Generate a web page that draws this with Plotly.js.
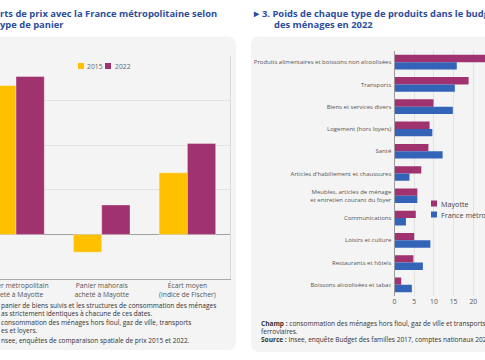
<!DOCTYPE html>
<html>
<head>
<meta charset="utf-8">
<script src="https://cdn.plot.ly/plotly-3.0.1.min.js"></script>
<style>html,body{margin:0;padding:0;background:#fff;}#chart{width:485px;height:360px;}</style>
</head>
<body>
<div id="chart"></div>
<script>
// ---- Data: chart 2 (écarts de prix, %) ----
const paniers = ['Panier métropolitain<br>acheté à Mayotte', 'Panier mahorais<br>acheté à Mayotte', 'Écart moyen<br>(indice de Fischer)'];
const ecart2015 = [16.7, -2.0, 6.9];
const ecart2022 = [17.7, 3.3, 10.2];
const annees = ['2015', '2022'];

// ---- Data: chart 3 (poids des produits, %) ----
const produits = [
  'Produits alimentaires et boissons non alcoolisées',
  'Transports',
  'Biens et services divers',
  'Logement (hors loyers)',
  'Santé',
  "Articles d'habillement et chaussures",
  'Meubles, articles de ménage<br>et entretien courant du foyer',
  'Communications',
  'Loisirs et culture',
  'Restaurants et hôtels',
  'Boissons alcoolisées et tabac'
];
const poidsMayotte = [24.0, 18.8, 9.9, 8.9, 8.6, 6.8, 5.8, 5.4, 5.0, 4.8, 1.7];
const poidsFrance  = [15.8, 15.3, 14.8, 9.6, 12.2, 3.8, 5.8, 2.9, 9.1, 7.2, 4.4];
const zones = ['Mayotte', 'France métropolitaine'];

// ---- Style ----
const W = 485, H = 360;
const YELLOW = '#FFC000', PURPLE = '#A0326F', BLUE = '#3464B8';
const CARD = '#f4f4f4', TITLE = '#2c4d9c';
const px = x => x / W;
const py = y => 1 - y / H;

function roundRect(x0, y0, x1, y1, r) {
  const rx = r / W, ry = r / H;
  const a = px(x0), b = px(x1), t = py(y0), u = py(y1);
  return `M${a + rx},${t} L${b - rx},${t} Q${b},${t} ${b},${t - ry} L${b},${u + ry} Q${b},${u} ${b - rx},${u} L${a + rx},${u} Q${a},${u} ${a},${u + ry} L${a},${t - ry} Q${a},${t} ${a + rx},${t} Z`;
}

const traces = [
  {type: 'bar', x: paniers, y: ecart2015, name: annees[0], marker: {color: YELLOW, line: {color: 'rgba(255,255,255,0.6)', width: 0.6}}, xaxis: 'x', yaxis: 'y', showlegend: false, hoverinfo: 'skip'},
  {type: 'bar', x: paniers, y: ecart2022, name: annees[1], marker: {color: PURPLE, line: {color: 'rgba(255,255,255,0.6)', width: 0.6}}, xaxis: 'x', yaxis: 'y', showlegend: false, hoverinfo: 'skip'},
  {type: 'bar', orientation: 'h', y: produits, x: poidsMayotte, name: zones[0], marker: {color: PURPLE}, xaxis: 'x2', yaxis: 'y2', showlegend: false, hoverinfo: 'skip'},
  {type: 'bar', orientation: 'h', y: produits, x: poidsFrance, name: zones[1], marker: {color: BLUE}, xaxis: 'x2', yaxis: 'y2', showlegend: false, hoverinfo: 'skip'}
];

const tickFont = {family: 'Open Sans', size: 6.8, color: '#555'};

const shapes = [
  {type: 'path', xref: 'paper', yref: 'paper', path: roundRect(-20, 36.5, 236, 350, 9), fillcolor: CARD, line: {width: 0}, layer: 'below'},
  {type: 'path', xref: 'paper', yref: 'paper', path: roundRect(251, 36.5, 520, 352, 9), fillcolor: CARD, line: {width: 0}, layer: 'below'},
  // right border of left plot frame
  {type: 'line', xref: 'paper', yref: 'paper', x0: px(230.5), x1: px(230.5), y0: py(279), y1: py(56), line: {color: '#dcdcdc', width: 1}},
  // legend squares
  {type: 'rect', xref: 'paper', yref: 'paper', x0: px(78), x1: px(84), y0: py(69), y1: py(63), fillcolor: YELLOW, line: {width: 0}},
  {type: 'rect', xref: 'paper', yref: 'paper', x0: px(105), x1: px(111), y0: py(69), y1: py(63), fillcolor: PURPLE, line: {width: 0}},
  {type: 'rect', xref: 'paper', yref: 'paper', x0: px(431), x1: px(437), y0: py(206.5), y1: py(200.5), fillcolor: PURPLE, line: {width: 0}},
  {type: 'rect', xref: 'paper', yref: 'paper', x0: px(431), x1: px(437), y0: py(217.5), y1: py(211.5), fillcolor: BLUE, line: {width: 0}}
];

function ann(text, x, y, font, extra) {
  return Object.assign({xref: 'paper', yref: 'paper', x: px(x), y: py(y), text: text, showarrow: false, xanchor: 'left', yanchor: 'middle', align: 'left', borderpad: 0, font: font}, extra || {});
}
const titleFont = {family: 'Open Sans', size: 9.4, color: TITLE};
const noteFont = {family: 'Open Sans', size: 6.55, color: '#333'};
const legFont = {family: 'Open Sans', size: 6.8, color: '#666'};
const legFont2 = {family: 'Open Sans', size: 7.2, color: '#444'};

const annotations = [
  ann('<b>rts de prix avec la France métropolitaine selon</b>', -1, 13.5, titleFont),
  ann('<b>ype de panier</b>', -1, 24.5, titleFont),
  ann('<b>►</b>', 251, 13.5, titleFont),
  ann('<b>3. Poids de chaque type de produits dans le budget</b>', 261, 13.5, titleFont),
  ann('<b>des ménages en 2022</b>', 272.5, 24.5, titleFont),
  ann(annees[0], 85.5, 66, legFont),
  ann(annees[1], 113.5, 66, legFont),
  ann(zones[0], 440, 203.5, legFont2),
  ann(zones[1], 440, 214.5, legFont2),
  ann('panier de biens suivis et les structures de consommation des ménages', -0.5, 305, noteFont),
  ann('as strictement identiques à chacune de ces dates.', -0.5, 313.3, noteFont),
  ann('consommation des ménages hors fioul, gaz de ville, transports', -0.5, 322, noteFont),
  ann('es et loyers.', -0.5, 330, noteFont),
  ann('nsee, enquêtes de comparaison spatiale de prix 2015 et 2022.', -0.5, 340.5, noteFont),
  ann('<b>Champ :</b> consommation des ménages hors fioul, gaz de ville et transports', 260, 323.5, noteFont),
  ann('ferroviaires.', 260, 331.5, noteFont),
  ann('<b>Source :</b> Insee, enquête Budget des familles 2017, comptes nationaux 2022.', 260, 339.5, noteFont)
];

const layout = {
  width: W, height: H,
  margin: {l: 0, r: 0, t: 0, b: 0},
  paper_bgcolor: '#ffffff', plot_bgcolor: 'rgba(0,0,0,0)',
  barmode: 'group', bargap: 0.34, bargroupgap: 0,
  showlegend: false,
  xaxis: {domain: [0, px(230.5)], anchor: 'y', type: 'category', range: [-0.187, 2.503], tickfont: tickFont,
          showline: true, linecolor: '#a8a8a8', linewidth: 1, ticks: '', showgrid: false, zeroline: false, automargin: false, fixedrange: true},
  yaxis: {domain: [py(279), py(56)], anchor: 'x', range: [-5, 20], dtick: 5, showticklabels: false, ticks: '',
          showgrid: true, gridcolor: '#e2e2e2', gridwidth: 1, zeroline: true, zerolinecolor: '#a0a0a0', zerolinewidth: 1.5,
          showline: false, automargin: false, fixedrange: true},
  xaxis2: {domain: [px(394.5), 1], anchor: 'y2', range: [0, 22.96], dtick: 5, tick0: 0, tickfont: {family: 'Open Sans', size: 6.8, color: '#555'},
           showgrid: true, gridcolor: '#e2e2e2', gridwidth: 1, zeroline: false, showline: false, ticks: '', automargin: false, fixedrange: true},
  yaxis2: {domain: [py(296), py(51)], anchor: 'x2', type: 'category', autorange: 'reversed',
           tickfont: {family: 'Open Sans', size: 6.0, color: '#555'},
           showline: true, linecolor: '#9a9a9a', linewidth: 1, ticks: '', showgrid: false, automargin: false, fixedrange: true, ticklabelstandoff: 1},
  shapes: shapes,
  annotations: annotations
};

Plotly.newPlot('chart', traces, layout, {displayModeBar: false, staticPlot: true});
</script>
</body>
</html>
